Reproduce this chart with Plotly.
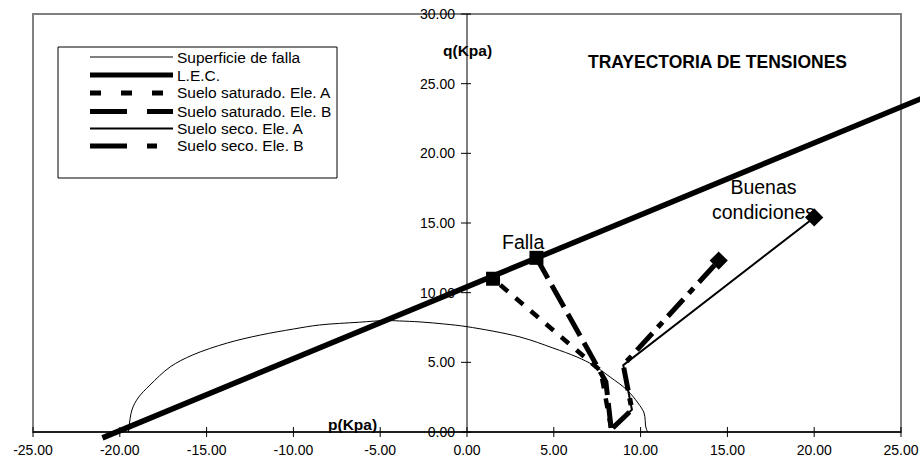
import plotly.graph_objects as go

# ---------------- data ----------------
x_tick_vals = [-25, -20, -15, -10, -5, 0, 5, 10, 15, 20, 25]
x_tick_text = ["-25.00", "-20.00", "-15.00", "-10.00", "-5.00", "0.00",
               "5.00", "10.00", "15.00", "20.00", "25.00"]
y_tick_vals = [0, 5, 10, 15, 20, 25, 30]
y_tick_text = ["0.00", "5.00", "10.00", "15.00", "20.00", "25.00", "30.00"]

# Superficie de falla
sup_p = [-19.5, -19.3, -18.95, -18.26, -17.1, -15.8, -13.8, -11.9, -10.0, -8.5,
         -6.2, -4.7, -3.9, -2.7, -1.3, 0.0, 3.05, 4.95, 6.34, 7.26, 8.24, 9.22,
         9.85, 10.2, 10.3, 10.4]
sup_q = [0.0, 1.58, 2.44, 3.37, 4.67, 5.53, 6.39, 6.96, 7.39, 7.68,
         7.88, 8.0, 7.97, 7.9, 7.75, 7.56, 6.82, 6.03, 5.38, 4.81, 3.95, 3.01,
         2.08, 1.36, 0.36, 0.0]

# L.E.C.
lec_p = [-21.0, 26.5]
lec_q = [-0.42, 24.1]

# Suelo saturado
sat_a_p = [8.3, 7.7, 1.5]
sat_a_q = [0.3, 4.4, 11.0]
sat_b_p = [8.3, 8.0, 4.0]
sat_b_q = [0.3, 3.6, 12.5]

# Suelo seco
seco_a_p = [8.4, 9.5, 9.0, 20.0]
seco_a_q = [0.3, 1.6, 4.8, 15.4]
seco_b_p = [8.4, 9.5, 9.0, 14.5]
seco_b_q = [0.3, 1.6, 4.8, 12.3]

series_names = ["Superficie de falla", "L.E.C.", "Suelo saturado. Ele. A",
                "Suelo saturado. Ele. B", "Suelo seco. Ele. A", "Suelo seco. Ele. B"]

# ---------------- layout constants ----------------
W, H = 920, 467
X0PX, XSCALE = 467.0, 17.36      # pixel of p=0, px per unit
Y0PX, YSCALE = 432.0, 13.933     # pixel of q=0, px per unit
xr = [(0 - X0PX) / XSCALE, (W - X0PX) / XSCALE]
yr = [(Y0PX - H) / YSCALE, Y0PX / YSCALE]
FONT = "Liberation Sans, Arial, sans-serif"


def px(x):
    return x / W


def py(y):
    return 1 - y / H


styles = [
    dict(color="black", width=1, dash="solid"),
    dict(color="black", width=5.5, dash="solid"),
    dict(color="black", width=4.5, dash="10px,10px"),
    dict(color="black", width=5, dash="25px,8px"),
    dict(color="black", width=2, dash="solid"),
    dict(color="black", width=5, dash="23px,8px,7px,8px"),
]

fig = go.Figure()
data_sets = [(sup_p, sup_q), (lec_p, lec_q), (sat_a_p, sat_a_q), (sat_b_p, sat_b_q),
             (seco_a_p, seco_a_q), (seco_b_p, seco_b_q)]
for (p, q), name, st in zip(data_sets, series_names, styles):
    fig.add_trace(go.Scatter(x=p, y=q, mode="lines", name=name, line=st,
                             line_shape="spline" if name == series_names[0] else "linear",
                             showlegend=False, hoverinfo="skip"))

# markers at path ends
fig.add_trace(go.Scatter(x=[sat_a_p[-1], sat_b_p[-1]], y=[sat_a_q[-1], sat_b_q[-1]],
                         mode="markers", marker=dict(symbol="square", size=14, color="black"),
                         showlegend=False, name="Falla"))
fig.add_trace(go.Scatter(x=[seco_b_p[-1], seco_a_p[-1]], y=[seco_b_q[-1], seco_a_q[-1]],
                         mode="markers", marker=dict(symbol="diamond", size=14, color="black"),
                         showlegend=False, name="Buenas condiciones"))

shapes = []
# plot-area border (gray)
shapes.append(dict(type="rect", xref="x", yref="y", x0=-25, x1=25, y0=0, y1=30,
                   line=dict(color="#808080", width=2), layer="below"))
# axis lines
shapes.append(dict(type="line", xref="x", yref="y", x0=-25, x1=25, y0=0, y1=0,
                   line=dict(color="black", width=1.5), layer="below"))
shapes.append(dict(type="line", xref="x", yref="y", x0=0, x1=0, y0=0, y1=30,
                   line=dict(color="black", width=1), layer="below"))
# cross ticks
for v in x_tick_vals:
    shapes.append(dict(type="line", xref="x", x0=v, x1=v, yref="y", ysizemode="pixel",
                       yanchor=0, y0=-5, y1=5, line=dict(color="black", width=1), layer="below"))
for v in y_tick_vals:
    shapes.append(dict(type="line", yref="y", y0=v, y1=v, xref="x", xsizemode="pixel",
                       xanchor=0, x0=-6, x1=4, line=dict(color="black", width=1), layer="below"))

# manual legend
LEG_L, LEG_T, LEG_R, LEG_B = 58, 47, 337, 178
shapes.append(dict(type="rect", xref="paper", yref="paper", x0=px(LEG_L), x1=px(LEG_R),
                   y0=py(LEG_B), y1=py(LEG_T), line=dict(color="black", width=1),
                   fillcolor="white", layer="above"))
row_y = [57, 75, 93, 111.5, 128.5, 146]
leg_dash = ["solid", "solid", "11px,20px", "37px,20px", "solid", "37px,20px,10px,30px"]
leg_width = [1, 5, 5, 5, 2, 5]
annotations = []
for i, name in enumerate(series_names):
    shapes.append(dict(type="line", xref="paper", yref="paper", x0=px(90), x1=px(173),
                       y0=py(row_y[i]), y1=py(row_y[i]),
                       line=dict(color="black", width=leg_width[i], dash=leg_dash[i]),
                       layer="above"))
    annotations.append(dict(xref="paper", yref="paper", x=px(175), y=py(row_y[i]),
                            text=name, showarrow=False, xanchor="left", yanchor="middle",
                            font=dict(family=FONT, size=15.5, color="black")))

annotations += [
    dict(xref="paper", yref="paper", x=px(717), y=py(62), text="<b>TRAYECTORIA DE TENSIONES</b>",
         showarrow=False, xanchor="center", yanchor="middle",
         font=dict(family=FONT, size=17.5, color="black")),
    dict(xref="paper", yref="paper", x=px(467), y=py(50), text="<b>q(Kpa)</b>",
         showarrow=False, xanchor="center", yanchor="middle",
         font=dict(family=FONT, size=15.5, color="black")),
    dict(xref="paper", yref="paper", x=px(352), y=py(424), text="<b>p(Kpa)</b>",
         showarrow=False, xanchor="center", yanchor="middle",
         font=dict(family=FONT, size=15.5, color="black")),
    dict(xref="paper", yref="paper", x=px(523), y=py(242), text="Falla",
         showarrow=False, xanchor="center", yanchor="middle",
         font=dict(family=FONT, size=19.5, color="black")),
    dict(xref="paper", yref="paper", x=px(763), y=py(199), text="Buenas<br>condiciones",
         showarrow=False, xanchor="center", yanchor="middle",
         font=dict(family=FONT, size=19.5, color="black")),
]

fig.update_layout(
    width=W, height=H, margin=dict(l=0, r=0, t=0, b=0),
    paper_bgcolor="white", plot_bgcolor="white",
    showlegend=False,
    font=dict(family=FONT, color="black"),
    xaxis=dict(range=xr, showgrid=False, zeroline=False, showline=False,
               anchor="free", position=(0 - yr[0]) / (yr[1] - yr[0]),
               tickmode="array", tickvals=x_tick_vals, ticktext=x_tick_text,
               ticks="", ticklabelstandoff=8, tickfont=dict(size=14, family=FONT)),
    yaxis=dict(range=yr, showgrid=False, zeroline=False, showline=False,
               anchor="free", position=(0 - xr[0]) / (xr[1] - xr[0]),
               tickmode="array", tickvals=y_tick_vals, ticktext=y_tick_text,
               ticks="", ticklabelstandoff=12, tickfont=dict(size=14, family=FONT)),
    shapes=shapes, annotations=annotations,
)

fig.write_html("out.html")
